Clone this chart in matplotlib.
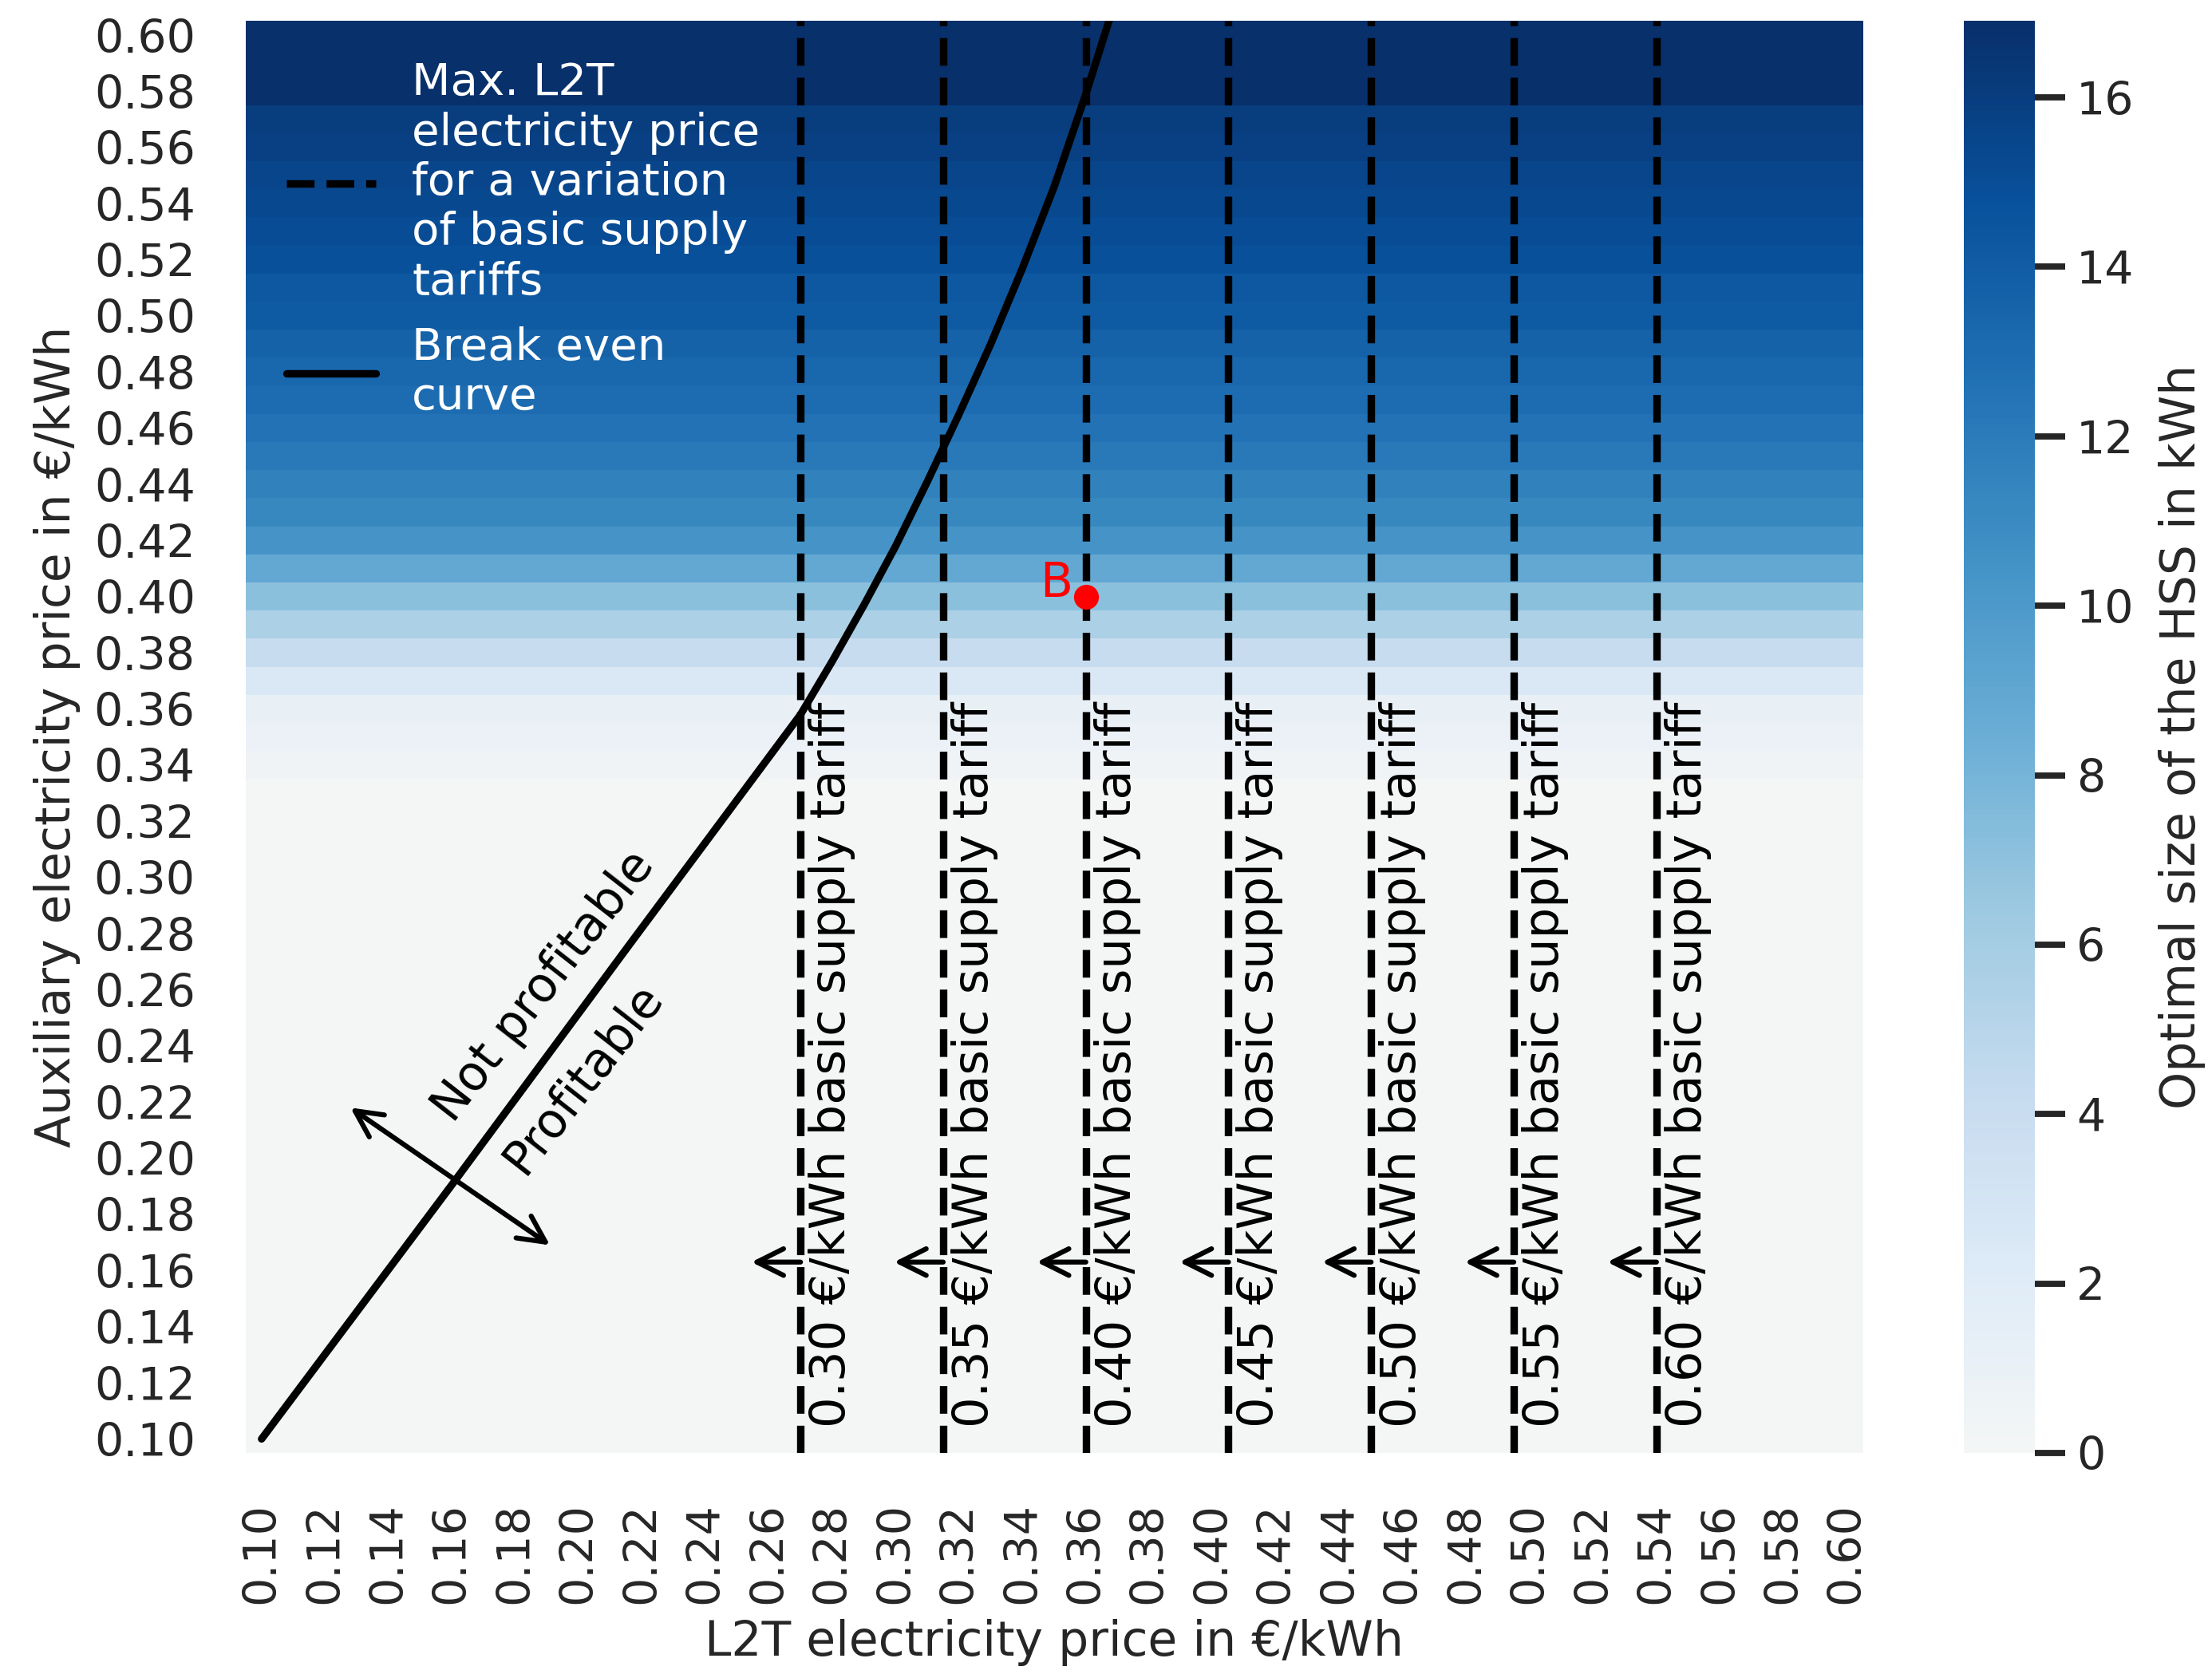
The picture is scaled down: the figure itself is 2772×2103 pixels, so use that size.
import numpy as np
import matplotlib
matplotlib.use("Agg")
import matplotlib.pyplot as plt
import seaborn as sns
from matplotlib.colors import LinearSegmentedColormap
from matplotlib.lines import Line2D

sns.set_theme(context="talk", style="white", font_scale=0.8)
plt.rcParams['xtick.labelsize'] = 13.7
plt.rcParams['ytick.labelsize'] = 13.7

# price grid in €/kWh (columns: L2T price, rows: auxiliary price)
l2t_price = np.round(np.arange(0.10, 0.605, 0.01), 2)
aux_price = np.round(np.arange(0.10, 0.605, 0.01), 2)

# optimal HSS size in kWh for each auxiliary price (0.10 ... 0.60)
hss_size = [
    0.0, 0.0, 0.0, 0.0, 0.0, 0.0, 0.0, 0.0, 0.0, 0.0,        # 0.10-0.19
    0.0, 0.0, 0.0, 0.0, 0.0, 0.0, 0.0, 0.0, 0.0, 0.0,        # 0.20-0.29
    0.0, 0.0, 0.0, 0.0, 0.4, 0.8, 1.1, 2.4, 4.0, 5.6,        # 0.30-0.39
    7.1, 8.9, 10.3, 11.2, 11.6, 12.1, 12.6, 13.0, 13.3, 13.6,  # 0.40-0.49
    14.1, 14.3, 14.8, 15.0, 15.3, 15.5, 15.8, 16.0, 16.9, 16.9,  # 0.50-0.59
    16.9,                                                     # 0.60
]

# basic supply tariffs and the resulting max. L2T price
basic_tariff = [0.30, 0.35, 0.40, 0.45, 0.50, 0.55, 0.60]
max_l2t = [0.27, 0.315, 0.36, 0.405, 0.45, 0.495, 0.54]

# break even curve (L2T price, auxiliary price)
be_l2t = [0.100, 0.161, 0.216, 0.270, 0.280, 0.290, 0.300, 0.310, 0.320,
          0.330, 0.340, 0.350, 0.360, 0.367, 0.369]
be_aux = [0.100, 0.192, 0.276, 0.358, 0.377, 0.397, 0.418, 0.441, 0.465,
          0.490, 0.517, 0.546, 0.579, 0.604, 0.611]

# point B
b_l2t, b_aux = 0.36, 0.40

tick_vals = np.round(np.arange(0.10, 0.605, 0.02), 2)

blues = ['#f4f6f6', '#deebf7', '#c6dbef', '#9ecae1', '#6baed6',
         '#4292c6', '#2171b5', '#08519c', '#08306b']
cmap = LinearSegmentedColormap.from_list('blues_grey', blues)

grid = np.tile(np.array(hss_size)[:, None], (1, len(l2t_price)))

fig = plt.figure(figsize=(9.24, 7.01), dpi=300)
ax = fig.add_axes([0.1111, 0.1341, 0.7309, 0.8533])
cax = fig.add_axes([0.8878, 0.1341, 0.0321, 0.8533])

im = ax.imshow(grid, cmap=cmap, vmin=0, vmax=max(hss_size), origin='lower',
               extent=[0.095, 0.605, 0.095, 0.605], aspect='auto',
               interpolation='nearest')

cb = fig.colorbar(im, cax=cax)
cb.outline.set_visible(False)
cb.set_ticks(range(0, 17, 2))
cb.set_label('Optimal size of the HSS in kWh', labelpad=7.2)
cax.tick_params(right=True, length=9, width=1.875)

# tariff lines
for t, x in zip(basic_tariff, max_l2t):
    ax.axvline(x, color='black', ls='--', lw=2.25)
    ax.text(x + 0.0025, 0.104, f"{t:.2f} €/kWh basic supply tariff",
            rotation=90, ha='left', va='bottom', color='black', fontsize=14.6)
    ax.annotate('', xy=(x - 0.0155, 0.163), xytext=(x, 0.163),
                arrowprops=dict(arrowstyle='->', color='black', lw=1.5,
                                mutation_scale=20, shrinkA=0, shrinkB=0))

# break even curve
ax.plot(be_l2t, be_aux, color='black', lw=2.25)

ax.annotate('', xy=(0.128, 0.218), xytext=(0.191, 0.169),
            arrowprops=dict(arrowstyle='<->', color='black', lw=1.5,
                            mutation_scale=20, shrinkA=0, shrinkB=0))
ax.text(0.189, 0.261, 'Not profitable', rotation=52, ha='center', va='center',
        rotation_mode='anchor', color='black')
ax.text(0.2016, 0.2283, 'Profitable', rotation=52, ha='center', va='center',
        rotation_mode='anchor', color='black')

# point B
ax.plot(b_l2t, b_aux, 'o', color='red', ms=6.5, mec='red')
ax.text(b_l2t - 0.0042, b_aux, 'B', color='red', ha='right', va='baseline')

handles = [Line2D([], [], color='black', ls='--', lw=2.25),
           Line2D([], [], color='black', lw=2.25)]
labels = ['Max. L2T\nelectricity price\nfor a variation\nof basic supply\ntariffs',
          'Break even\ncurve']
ax.legend(handles, labels, loc='upper left', frameon=False, labelcolor='white',
          fontsize=13.5)

ax.set_xlim(0.095, 0.605)
ax.set_ylim(0.095, 0.605)
ax.set_xticks(tick_vals)
ax.set_xticklabels([f"{v:.2f}" for v in tick_vals], rotation=90)
ax.set_yticks(tick_vals)
ax.set_yticklabels([f"{v:.2f}" for v in tick_vals])
ax.tick_params(axis='y', pad=6.2)
ax.tick_params(axis='x', pad=6.0)
for s in ax.spines.values():
    s.set_visible(False)

ax.set_xlabel('L2T electricity price in €/kWh', labelpad=4.5)
ax.set_ylabel('Auxiliary electricity price in €/kWh', labelpad=4.1)

fig.savefig('out.png', dpi=300)
